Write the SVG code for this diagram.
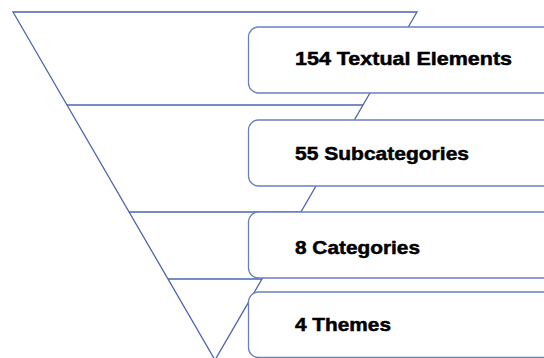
<svg xmlns="http://www.w3.org/2000/svg" width="544" height="358" viewBox="0 0 544 358">
  <style>
    .funnel { fill: none; stroke: #4A66AC; stroke-width: 1.3; }
    .box { fill: #FFFFFF; stroke: #6A80BA; stroke-width: 1.3; }
    .label { font-family: "Liberation Sans", Arial, sans-serif; font-weight: bold; font-size: 19px; fill: #000000; stroke: #000000; stroke-width: 0.5; }
  </style>
  <rect x="0" y="0" width="544" height="358" fill="#FFFFFF"/>
  <g id="funnel">
    <polygon class="funnel" points="13,12 417,12 215,360"/>
    <line class="funnel" x1="67" y1="105" x2="363" y2="105"/>
    <line class="funnel" x1="129" y1="212" x2="301" y2="212"/>
    <line class="funnel" x1="168" y1="279" x2="262" y2="279"/>
  </g>
  <g id="node-textual-elements">
    <rect class="box" x="248.5" y="27" width="320" height="66" rx="10" ry="10"/>
    <text class="label" x="295" y="65" textLength="217" lengthAdjust="spacingAndGlyphs">154 Textual Elements</text>
  </g>
  <g id="node-subcategories">
    <rect class="box" x="248.5" y="120" width="320" height="66" rx="10" ry="10"/>
    <text class="label" x="295" y="160" textLength="174" lengthAdjust="spacingAndGlyphs">55 Subcategories</text>
  </g>
  <g id="node-categories">
    <rect class="box" x="248.5" y="212" width="320" height="66" rx="10" ry="10"/>
    <text class="label" x="295" y="254" textLength="125" lengthAdjust="spacingAndGlyphs">8 Categories</text>
  </g>
  <g id="node-themes">
    <rect class="box" x="248.5" y="292" width="320" height="65.5" rx="10" ry="10"/>
    <text class="label" x="295" y="331" textLength="96" lengthAdjust="spacingAndGlyphs">4 Themes</text>
  </g>
  <g id="connectors"></g>
</svg>
